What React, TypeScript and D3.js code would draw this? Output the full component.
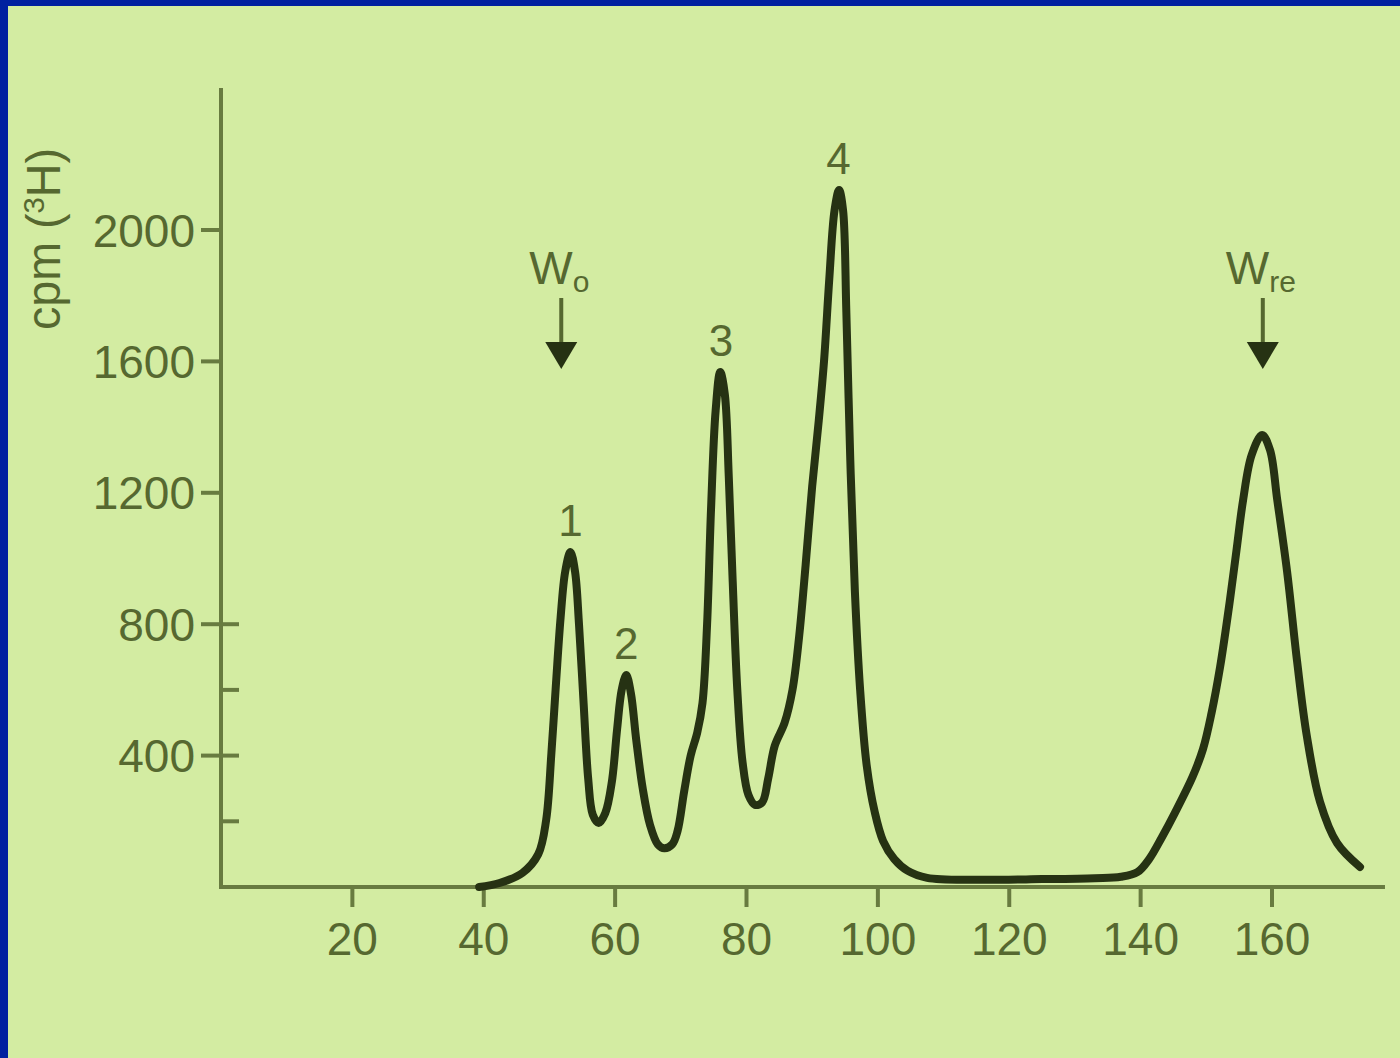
import React from 'react'
import * as d3 from 'd3'

// fraction number vs radioactivity
const fraction = [39.3, 42.4, 45.9, 48.3, 49.5, 50.3, 51.0, 51.7, 52.4, 53.2, 53.9, 54.5, 55.2, 55.9, 56.6, 57.5, 58.5, 59.5, 60.3, 61.0, 61.7, 62.4, 63.2, 64.2, 65.3, 66.5, 67.5, 68.7, 69.5, 70.5, 71.5, 72.5, 73.3, 74.0, 74.6, 75.3, 76.0, 76.7, 77.3, 77.9, 78.6, 79.4, 80.3, 81.3, 82.4, 83.3, 84.3, 85.8, 87.0, 88.0, 89.0, 90.0, 91.0, 91.8, 92.6, 93.4, 94.1, 94.7, 95.2, 95.8, 96.5, 97.3, 98.3, 99.5, 100.8, 102.5, 104.5, 107.5, 115, 125, 133, 137, 139.5, 141.3, 143.2, 145.2, 147.9, 149.5, 150.8, 152.1, 153.6, 154.6, 155.6, 156.9, 158.5, 159.7, 160.8, 162.3, 163.8, 165.3, 167.3, 169.9, 173.4]
const cpm = [0, 12, 43, 100, 204, 408, 620, 820, 960, 1020, 960, 800, 560, 330, 220, 195, 225, 320, 480, 600, 645, 590, 450, 300, 190, 130, 118, 130, 170, 290, 400, 470, 560, 800, 1150, 1450, 1568, 1500, 1250, 930, 600, 380, 280, 250, 258, 330, 430, 500, 600, 760, 980, 1220, 1420, 1600, 1850, 2060, 2122, 2060, 1750, 1300, 900, 600, 370, 230, 140, 85, 50, 28, 22, 24, 27, 31, 45, 85, 150, 225, 335, 420, 530, 670, 874, 1026, 1178, 1315, 1376, 1330, 1178, 960, 690, 460, 260, 134, 61]

const xTicks = [20, 40, 60, 80, 100, 120, 140, 160]
const yTicks = [400, 800, 1200, 1600, 2000]
const yInnerTicks = [200, 400, 600, 800]

const peakLabels = ['1', '2', '3', '4']
const peakX = [53.2, 61.7, 76.1, 94.0]
const peakY = [1020, 645, 1568, 2122]

const markers = [
  { name: 'W', sub: 'o', at: 51.8 },
  { name: 'W', sub: 're', at: 158.6 },
]

const bg = '#d3eca2'
const axisCol = '#687b40'
const textCol = '#566830'
const lineCol = '#263213'

export default function App() {
  const W = 1400, H = 1058
  const x = d3.scaleLinear().domain([0, 160]).range([221, 1272])
  const y = d3.scaleLinear().domain([0, 2000]).range([887, 230])

  const pts: [number, number][] = fraction.map((f, i) => [f, cpm[i]])
  const line = d3.line<[number, number]>()
    .x(d => x(d[0]))
    .y(d => y(d[1]))
    .curve(d3.curveCatmullRom.alpha(0.5))

  const font = '"Liberation Sans", Arial, sans-serif'

  return (
    <svg width={W} height={H} style={{ position: 'absolute', left: 0, top: 0 }} fontFamily={font}>
      <rect x={0} y={0} width={W} height={H} fill="#0020a0" />
      <rect x={8} y={6} width={W - 8} height={H - 6} fill={bg} />

      {/* axes */}
      <line x1={x(0)} x2={x(0)} y1={88} y2={y(0)} stroke={axisCol} strokeWidth={4} />
      <line x1={x(0) - 2} x2={x(177.2)} y1={y(0)} y2={y(0)} stroke={axisCol} strokeWidth={4} />

      {yTicks.map(t => (
        <g key={'y' + t}>
          <line x1={x(0) - 20} x2={x(0)} y1={y(t)} y2={y(t)} stroke={axisCol} strokeWidth={4} />
          <text x={x(0) - 26} y={y(t)} dy="0.36em" textAnchor="end" fontSize={46} fill={textCol}>{t}</text>
        </g>
      ))}
      {yInnerTicks.map(t => (
        <line key={'yi' + t} x1={x(0)} x2={x(0) + 18} y1={y(t)} y2={y(t)} stroke={axisCol} strokeWidth={4} />
      ))}
      {xTicks.map(t => (
        <g key={'x' + t}>
          <line x1={x(t)} x2={x(t)} y1={y(0)} y2={y(0) + 20} stroke={axisCol} strokeWidth={4} />
          <text x={x(t)} y={955} textAnchor="middle" fontSize={46} fill={textCol}>{t}</text>
        </g>
      ))}

      <text transform={`translate(60,239) rotate(-90)`} textAnchor="middle" fontSize={48} fill={textCol}
        textLength={182} lengthAdjust="spacingAndGlyphs">
        cpm (<tspan fontSize={30} dy={-16}>3</tspan><tspan dy={16}>H)</tspan>
      </text>

      <path d={line(pts) || ''} fill="none" stroke={lineCol} strokeWidth={8} strokeLinejoin="round" strokeLinecap="round" />

      {peakLabels.map((l, i) => (
        <text key={l} x={x(peakX[i])} y={y(peakY[i]) - 16} textAnchor="middle" fontSize={44} fill={textCol}>{l}</text>
      ))}

      {markers.map(m => {
        const cx = x(m.at)
        return (
          <g key={m.sub}>
            <text x={cx - 2} y={284} textAnchor="middle" fontSize={46} fill={textCol}>
              {m.name}<tspan fontSize={30} dy={8}>{m.sub}</tspan>
            </text>
            <line x1={cx} x2={cx} y1={298} y2={346} stroke={textCol} strokeWidth={4} />
            <path d={`M${cx - 16},${342} L${cx + 16},${342} L${cx},${369} Z`} fill={lineCol} />
          </g>
        )
      })}
    </svg>
  )
}
